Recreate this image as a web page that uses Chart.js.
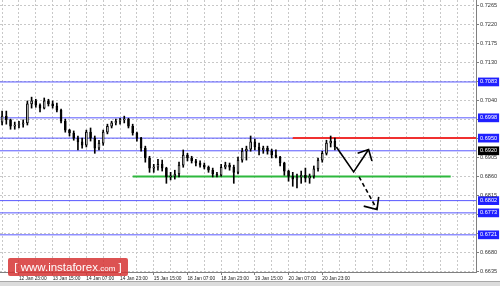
<!DOCTYPE html>
<html lang="en">
<head>
<meta charset="UTF-8">
<title>AUD/USD H1</title>
<script src="https://cdn.jsdelivr.net/npm/chart.js"></script>
<style>
  body { margin: 0; background: #fff; }
  #wrap { position: relative; width: 500px; height: 286px; overflow: hidden; }
  #brand {
    position: absolute; left: 8px; top: 258px; width: 120px; height: 18px;
    background: rgba(214, 52, 52, 0.85); color: #fff; border-radius: 2px;
    font-family: "Liberation Sans", Arial, sans-serif; font-size: 11.5px;
    line-height: 18px; text-align: center; white-space: nowrap;
  }
  #brand small { font-size: 8px; }
  #strip { position: absolute; left: 0; top: 281px; width: 500px; height: 5px; background: #dcdcdc; border-top: 1px solid #a8a8a8; }
</style>
</head>
<body>
<div id="wrap">
  <canvas id="chart" width="500" height="286"></canvas>
  <div id="strip"></div>
  <div id="brand">[ www.instaforex<small>.com</small> ]</div>
</div>
<script>
// H2 candles; x = trading hours counted from 12 Jan 07:00
const candleHours = [8,10,12,14,16,18,20,22,24,26,28,30,32,34,36,38,40,42,44,46,
  48,50,52,54,56,58,60,62,64,66,68,70,72,74,76,78,80,82,84,86,
  88,90,92,94,96,98,100,102,104,106,108,110,112,114,116,118,120,122,124,126,
  128,130,132,134,136,138,140,142,144,146,148,150,152,154,156,158,160,162,164,166];

const opens = [0.6988,0.7002,0.6993,0.6978,0.6981,0.6983,0.6986,0.7031,0.7038,0.7028,
  0.7021,0.7038,0.7031,0.7026,0.7016,0.6990,0.6969,0.6962,0.6950,0.6941,
  0.6933,0.6964,0.6950,0.6926,0.6938,0.6964,0.6978,0.6986,0.6990,0.6993,
  0.6995,0.6978,0.6962,0.6950,0.6926,0.6903,0.6879,0.6881,0.6888,0.6879,
  0.6858,0.6860,0.6865,0.6886,0.6910,0.6903,0.6896,0.6891,0.6886,0.6881,
  0.6874,0.6865,0.6862,0.6881,0.6886,0.6881,0.6869,0.6898,0.6919,0.6924,
  0.6941,0.6929,0.6922,0.6926,0.6919,0.6910,0.6905,0.6891,0.6872,0.6860,
  0.6853,0.6858,0.6862,0.6855,0.6860,0.6877,0.6898,0.6914,0.6938,0.6943];

const highs = [0.7014,0.7014,0.6995,0.6988,0.6990,0.6993,0.7038,0.7047,0.7042,0.7031,
  0.7045,0.7042,0.7038,0.7033,0.7019,0.6995,0.6971,0.6967,0.6955,0.6950,
  0.6969,0.6974,0.6955,0.6945,0.6969,0.6983,0.6990,0.6995,0.6997,0.7002,
  0.6997,0.6983,0.6964,0.6952,0.6931,0.6907,0.6888,0.6900,0.6898,0.6881,
  0.6869,0.6874,0.6893,0.6922,0.6914,0.6907,0.6900,0.6896,0.6891,0.6884,
  0.6879,0.6869,0.6888,0.6893,0.6891,0.6886,0.6905,0.6926,0.6931,0.6955,
  0.6948,0.6938,0.6931,0.6931,0.6924,0.6922,0.6907,0.6893,0.6874,0.6869,
  0.6865,0.6872,0.6879,0.6865,0.6884,0.6903,0.6919,0.6945,0.6955,0.6950];

const lows = [0.6981,0.6983,0.6971,0.6971,0.6974,0.6976,0.6981,0.7021,0.7023,0.7012,
  0.7019,0.7026,0.7021,0.7012,0.6986,0.6964,0.6955,0.6945,0.6922,0.6926,
  0.6929,0.6943,0.6914,0.6922,0.6933,0.6960,0.6974,0.6981,0.6983,0.6986,
  0.6974,0.6957,0.6943,0.6919,0.6893,0.6869,0.6869,0.6874,0.6872,0.6843,
  0.6851,0.6853,0.6858,0.6881,0.6896,0.6891,0.6884,0.6881,0.6877,0.6869,
  0.6858,0.6858,0.6860,0.6877,0.6874,0.6843,0.6865,0.6893,0.6898,0.6919,
  0.6922,0.6910,0.6914,0.6912,0.6903,0.6903,0.6884,0.6862,0.6848,0.6836,
  0.6832,0.6843,0.6846,0.6843,0.6855,0.6872,0.6893,0.6910,0.6929,0.6922];

const closes = [0.7002,0.6993,0.6978,0.6981,0.6983,0.6986,0.7031,0.7038,0.7028,0.7021,
  0.7038,0.7031,0.7026,0.7016,0.6990,0.6969,0.6962,0.6950,0.6941,0.6933,
  0.6964,0.6950,0.6926,0.6938,0.6964,0.6978,0.6986,0.6990,0.6993,0.6995,
  0.6978,0.6962,0.6950,0.6926,0.6903,0.6879,0.6881,0.6888,0.6879,0.6858,
  0.6860,0.6865,0.6886,0.6910,0.6903,0.6896,0.6891,0.6886,0.6881,0.6874,
  0.6865,0.6862,0.6881,0.6886,0.6881,0.6869,0.6898,0.6919,0.6924,0.6941,
  0.6929,0.6922,0.6926,0.6919,0.6910,0.6905,0.6891,0.6872,0.6860,0.6853,
  0.6858,0.6862,0.6855,0.6860,0.6877,0.6898,0.6914,0.6938,0.6943,0.6929];

// axis text
const timeLabels = ['12 Jan 23:00','13 Jan 15:00','14 Jan 07:00','14 Jan 23:00','15 Jan 15:00',
  '18 Jan 07:00','18 Jan 23:00','19 Jan 15:00','20 Jan 07:00','20 Jan 23:00'];
const labelHours = [16,32,48,64,80,96,112,128,144,160];
const priceTicks = [0.6635,0.6680,0.6725,0.6770,0.6815,0.6860,0.6905,0.6950,
  0.6995,0.7040,0.7085,0.7130,0.7175,0.7220,0.7265];

// horizontal levels drawn on the chart
const levelValues = [0.7083,0.6998,0.6950,0.6920,0.6802,0.6773,0.6721];
const bidPrice = 0.6920;
const resistance = [{x: 146, y: 0.6950}, {x: 233, y: 0.6950}];
const support = [{x: 70, y: 0.6859}, {x: 221, y: 0.6859}];

// forecast arrows (hour, price)
const upPath = [{x: 166.7, y: 0.6929}, {x: 174.9, y: 0.6870}, {x: 182.0, y: 0.6923}];
const upHead = [{x: 176.8, y: 0.6914}, {x: 182.0, y: 0.6923}, {x: 183.6, y: 0.6896}];
const downPath = [{x: 177.5, y: 0.6858}, {x: 186.0, y: 0.6781}];
const downHead = [{x: 179.7, y: 0.6789}, {x: 186.0, y: 0.6781}, {x: 186.8, y: 0.6811}];

const X_MIN = 7, X_MAX = 233;
const FONT = "'Liberation Sans', Arial, sans-serif";

const bodies = candleHours.map((h, i) => ({x: h, y: [opens[i], closes[i]]}));
const wicks = candleHours.map((h, i) => ({x: h, y: [lows[i], highs[i]]}));
const bodyFill = candleHours.map((h, i) => closes[i] >= opens[i] ? '#ffffff' : '#000000');

function lineSet(data, color, width, order, dash) {
  return {
    type: 'line', data: data, borderColor: color, borderWidth: width,
    borderDash: dash || [], pointRadius: 0, fill: false, tension: 0, order: order
  };
}

const datasets = [
  lineSet(upPath, '#000', 1.6, 0),
  lineSet(upHead, '#000', 1.6, 0),
  lineSet(downPath, '#000', 1.6, 0, [4, 3]),
  lineSet(downHead, '#000', 1.6, 0),
  {
    type: 'bar', data: bodies, backgroundColor: bodyFill, borderColor: '#000',
    borderWidth: 1, borderSkipped: false, barThickness: 2, minBarLength: 1,
    grouped: false, order: 1
  },
  {
    type: 'bar', data: wicks, backgroundColor: '#000', barThickness: 1,
    grouped: false, order: 2
  },
  lineSet(resistance, '#f03030', 2, 3),
  lineSet(support, '#2db83d', 2, 3)
];
levelValues.forEach(v => {
  datasets.push(lineSet([{x: X_MIN, y: v}, {x: X_MAX, y: v}], '#5858ff', 1, 4));
});

function nearLevel(v) {
  return levelValues.some(l => Math.abs(l - v) < 0.0006);
}

new Chart(document.getElementById('chart'), {
  type: 'bar',
  data: { datasets: datasets },
  options: {
    responsive: false,
    animation: false,
    events: [],
    layout: { padding: 0 },
    plugins: { legend: { display: false }, tooltip: { enabled: false } },
    scales: {
      x: {
        type: 'linear', min: X_MIN, max: X_MAX, offset: false,
        afterBuildTicks: s => {
          const t = [];
          for (let h = 8; h <= X_MAX; h += 8) t.push({value: h});
          s.ticks = t;
        },
        afterFit: s => { s.height = 14; s.paddingLeft = 0; s.paddingRight = 0; },
        ticks: {
          autoSkip: false, maxRotation: 0, align: 'start', padding: 1,
          color: '#222', font: { family: FONT, size: 4.8 },
          callback: v => {
            const k = labelHours.indexOf(v);
            return k >= 0 ? timeLabels[k] : '';
          }
        },
        grid: {
          offset: false, color: '#c8c8c8', tickLength: 3,
          tickColor: c => labelHours.includes(c.tick && c.tick.value) ? '#808080' : 'rgba(0,0,0,0)'
        },
        border: { color: '#808080', dash: [2, 2] }
      },
      y: {
        type: 'linear', position: 'right', min: 0.6633, max: 0.7277,
        afterBuildTicks: s => {
          const t = priceTicks.map(v => ({value: v, level: false}));
          levelValues.forEach(v => t.push({value: v, level: true}));
          t.sort((a, b) => a.value - b.value);
          s.ticks = t;
        },
        afterFit: s => { s.width = 24; s.paddingTop = 0; s.paddingBottom = 0; },
        ticks: {
          autoSkip: false, padding: 1,
          font: { family: FONT, size: 5.6 },
          color: c => (c.tick && c.tick.level) ? '#ffffff' : '#333333',
          showLabelBackdrop: c => !!(c.tick && c.tick.level),
          backdropColor: c => (c.tick && c.tick.value === bidPrice) ? '#000000' : '#2020ff',
          backdropPadding: { x: 2, y: 1 },
          callback: function (v, i, ticks) {
            const tk = ticks[i];
            if (!tk.level && nearLevel(v)) return '';
            return Number(v).toFixed(4);
          }
        },
        grid: {
          tickLength: 3,
          color: c => (c.tick && c.tick.level) ? 'rgba(0,0,0,0)' : '#c8c8c8',
          tickColor: c => (c.tick && c.tick.level) ? 'rgba(0,0,0,0)' : '#808080'
        },
        border: { color: '#808080', dash: [2, 2] }
      }
    }
  }
});
</script>
</body>
</html>
